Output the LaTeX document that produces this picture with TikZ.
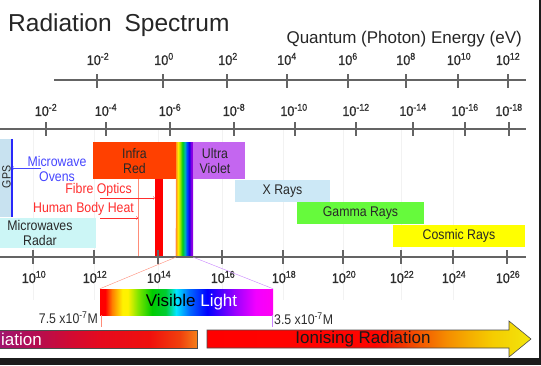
\documentclass[tikz,border=0pt]{standalone}
\usepackage{fontspec}
\setmainfont{Liberation Sans}
\newfontfamily\narrowsans[FakeStretch=0.88]{Liberation Sans}
\newfontfamily\ticksans[FakeStretch=0.9,FakeBold=0.6]{Liberation Sans}
\usetikzlibrary{positioning}

\definecolor{axisgray}{RGB}{100,100,100}
\definecolor{ticktext}{RGB}{45,45,45}
\definecolor{boxtext}{RGB}{40,40,40}
\definecolor{infrared}{RGB}{255,64,0}
\definecolor{uvviolet}{RGB}{196,102,240}
\definecolor{xraycol}{RGB}{204,232,246}
\definecolor{gammacol}{RGB}{102,250,60}
\definecolor{cosmiccol}{RGB}{255,255,0}
\definecolor{radarcol}{RGB}{204,246,246}
\definecolor{gpscol}{RGB}{200,226,240}
\definecolor{gpsblue}{RGB}{40,40,250}
\definecolor{ovenblue}{RGB}{70,70,255}
\definecolor{fibrered}{RGB}{255,45,45}
\definecolor{salmon}{RGB}{255,140,120}
\definecolor{vislilac}{RGB}{200,130,255}
\definecolor{gridfaint}{RGB}{242,242,242}
\definecolor{framedark}{RGB}{28,28,28}

% the colour bands
\pgfdeclarehorizontalshading{narrowrainbow}{100bp}{rgb(0bp)=(1,0.6,0.1); rgb(25bp)=(1,0.6,0.1);
  rgb(31bp)=(1,0.92,0); rgb(37bp)=(0.6,0.9,0); rgb(44bp)=(0,0.8,0.1); rgb(51bp)=(0,0.7,0.7);
  rgb(57bp)=(0,0.3,1); rgb(64bp)=(0.1,0,0.9); rgb(70bp)=(0.55,0,0.9); rgb(75bp)=(0.55,0,0.9);
  rgb(100bp)=(0.55,0,0.9)}
\pgfdeclarehorizontalshading{visspectrum}{100bp}{rgb(0bp)=(1,0,0); rgb(25bp)=(1,0,0);
  rgb(26.5bp)=(1,0,0); rgb(28.5bp)=(1,0.5,0); rgb(31.5bp)=(1,0.95,0); rgb(33bp)=(1,0.95,0);
  rgb(36bp)=(0.5,0.9,0); rgb(40bp)=(0,0.8,0); rgb(44bp)=(0,0.8,0.2); rgb(47bp)=(0,0.9,1);
  rgb(51bp)=(0,0.4,1); rgb(56bp)=(0,0,1); rgb(60bp)=(0.3,0,1); rgb(64bp)=(0.6,0,1);
  rgb(70bp)=(0.95,0,1); rgb(75bp)=(1,0,0.95); rgb(100bp)=(1,0,0.95)}
\pgfdeclarehorizontalshading{nonionshade}{100bp}{rgb(0bp)=(0.63,0.08,0.43); rgb(25.5bp)=(0.63,0.08,0.43);
  rgb(35.6bp)=(0.72,0.05,0.3); rgb(43bp)=(0.82,0.04,0.2); rgb(50.6bp)=(0.9,0.04,0.12);
  rgb(63bp)=(0.94,0.06,0.05); rgb(70.7bp)=(0.94,0.25,0.05); rgb(75bp)=(0.96,0.5,0.1);
  rgb(100bp)=(0.96,0.5,0.1)}
\pgfdeclarehorizontalshading{ionshade}{100bp}{rgb(0bp)=(1,0,0); rgb(25bp)=(1,0,0);
  rgb(51bp)=(1,0.02,0); rgb(55bp)=(0.95,0.2,0); rgb(62bp)=(0.96,0.55,0); rgb(66bp)=(0.96,0.7,0);
  rgb(69bp)=(0.96,0.8,0); rgb(75bp)=(0.95,0.9,0.05); rgb(100bp)=(0.95,0.9,0.05)}

\begin{document}
\begin{tikzpicture}
[x=1pt,y=-1pt,>=to,
 axis/.style={draw=axisgray,line width=1.2pt},
 ticklabel/.style={font=\ticksans\fontsize{14}{16}\selectfont,text=ticktext,inner sep=1pt},
 band/.style={inner sep=0pt,align=center,font=\narrowsans\fontsize{14}{15}\selectfont,text=boxtext},
 note/.style={inner sep=1pt,align=center,font=\narrowsans\fontsize{14}{15}\selectfont}]

\fill[white] (0,0) rectangle (541,365);
\useasboundingbox (0,0) rectangle (541,365);

% the titles
\node[anchor=base west,inner sep=0pt,font=\fontsize{24.5}{28}\selectfont,text=black!85] (title) at (8,31.7) {Radiation\hspace{0.25em} Spectrum};
\node[anchor=base east,inner sep=0pt,font=\fontsize{17}{20}\selectfont,text=black!85] (energytitle) at (522,43.3) {Quantum (Photon) Energy (eV)};

% faint grid
\draw[gridfaint] (33,129) -- (33,300) (94,129) -- (94,300) (158,129) -- (158,300) (222,129) -- (222,300)
  (283,129) -- (283,300) (343,129) -- (343,300) (401,129) -- (401,300) (453,129) -- (453,300);

% the energy axis
\draw[axis] (54,80) -- (526,80);
\draw[axis] (97,74) -- (97,88) (163,74) -- (163,88) (227,74) -- (227,88) (287,74) -- (287,88)
  (348,74) -- (348,88) (406,74) -- (406,88) (458,74) -- (458,88) (508,74) -- (508,88);
\node[ticklabel] (ev1) at (98,59) {10\textsuperscript{-2}};
\node[ticklabel] (ev2) at (164,59) {10\textsuperscript{0}};
\node[ticklabel] (ev3) at (228,59) {10\textsuperscript{2}};
\node[ticklabel] (ev4) at (287,59) {10\textsuperscript{4}};
\node[ticklabel] (ev5) at (348,59) {10\textsuperscript{6}};
\node[ticklabel] (ev6) at (406,59) {10\textsuperscript{8}};
\node[ticklabel] (ev7) at (459,59) {10\textsuperscript{10}};
\node[ticklabel] (ev8) at (508,59) {10\textsuperscript{12}};

% the wavelength axis
\draw[axis] (0,129) -- (526,129);
\draw[axis] (46,122) -- (46,136) (106,122) -- (106,136) (170,122) -- (170,136) (234,122) -- (234,136)
  (295,122) -- (295,136) (356,122) -- (356,136) (413,122) -- (413,136) (465,122) -- (465,136) (509,122) -- (509,136);
\node[ticklabel] (wl1) at (46,110) {10\textsuperscript{-2}};
\node[ticklabel] (wl2) at (106,110) {10\textsuperscript{-4}};
\node[ticklabel] (wl3) at (170,110) {10\textsuperscript{-6}};
\node[ticklabel] (wl4) at (234,110) {10\textsuperscript{-8}};
\node[ticklabel] (wl5) at (294,110) {10\textsuperscript{-10}};
\node[ticklabel] (wl6) at (356,110) {10\textsuperscript{-12}};
\node[ticklabel] (wl7) at (413,110) {10\textsuperscript{-14}};
\node[ticklabel] (wl8) at (465,110) {10\textsuperscript{-16}};
\node[ticklabel] (wl9) at (509,110) {10\textsuperscript{-18}};

% the bands
\node[band,fill=gpscol,minimum width=14pt,minimum height=78pt] (gps) at (5,178) {};
\draw[gpsblue,line width=1.5pt] (gps.north east) -- (gps.south east);
\node[band,rotate=90,font=\narrowsans\fontsize{12}{14}\selectfont] (gpslabel) at (6.5,177) {GPS};
\node[band,fill=radarcol,minimum width=112pt,minimum height=30pt] (radar) at (40,233) {Microwaves\\Radar};
\node[band,fill=infrared,minimum width=83pt,minimum height=37pt] (infrared) at (134.5,160.5) {Infra\\Red};
\node[band,fill=red,minimum width=8pt,minimum height=78pt] (irbar) at (159,218) {};
\node[band,shading=narrowrainbow,minimum width=17pt,minimum height=115pt] (visbar) at (184.5,199.5) {};
\node[band,fill=uvviolet,minimum width=52pt,minimum height=37pt] (uv) at (219,160.5) {};
\node[band] (uvlabel) at ([xshift=-4pt]uv.center) {Ultra\\Violet};
\node[band,fill=xraycol,minimum width=95pt,minimum height=22pt] (xray) at (282.5,191) {X Rays};
\node[band,fill=gammacol,minimum width=127pt,minimum height=22pt] (gamma) at (360.5,213) {Gamma Rays};
\node[band,fill=cosmiccol,minimum width=132pt,minimum height=22pt] (cosmic) at (459,236) {Cosmic Rays};

% the uses
\coordinate (heattop) at (138,179);
\coordinate (heatbot) at (138,257);
\draw[salmon] (heattop) -- (heatbot);
\draw[salmon] (infrared.south east) -- (visbar.south west);
\node[note,text=ovenblue] (ovens) at (57,169) {Microwave\\Ovens};
\node[note,text=fibrered,anchor=east] (fibre) at (133,190) {Fibre Optics};
\node[note,text=fibrered,anchor=east] (bodyheat) at (135,209) {Human Body Heat};
\coordinate (ovenstart) at (41,168);
\coordinate (fibrestart) at (100,198);
\coordinate (heatstart) at (100,218);
\draw[->,ovenblue] (ovenstart) -- (gps.east |- ovenstart);
\draw[->,fibrered] (fibrestart) -- (irbar.west |- fibrestart);
\draw[->,fibrered] (heatstart) -- (heattop |- heatstart);

% the frequency axis
\draw[axis] (0,257) -- (526,257);
\draw[axis] (33,250) -- (33,264) (94,250) -- (94,264) (158,250) -- (158,264) (222,250) -- (222,264)
  (283,250) -- (283,264) (343,250) -- (343,264) (401,250) -- (401,264) (453,250) -- (453,264) (507,250) -- (507,264);
\node[ticklabel] (hz1) at (34,277) {10\textsuperscript{10}};
\node[ticklabel] (hz2) at (95,277) {10\textsuperscript{12}};
\node[ticklabel] (hz3) at (159,277) {10\textsuperscript{14}};
\node[ticklabel] (hz4) at (223,277) {10\textsuperscript{16}};
\node[ticklabel] (hz5) at (284,277) {10\textsuperscript{18}};
\node[ticklabel] (hz6) at (344,277) {10\textsuperscript{20}};
\node[ticklabel] (hz7) at (402,277) {10\textsuperscript{22}};
\node[ticklabel] (hz8) at (454,277) {10\textsuperscript{24}};
\node[ticklabel] (hz9) at (508,277) {10\textsuperscript{26}};

% visible light
\node[band,shading=visspectrum,minimum width=173pt,minimum height=26pt] (visible) at (186.5,302) {};
\node[band,font=\fontsize{17}{20}\selectfont,text=black] (vislabel) at ([xshift=5pt]visible.center) {Visible {\color{white}Light}};
\draw[salmon] (visbar.south west) -- (visible.north west);
\draw[vislilac] (visbar.south east) -- (visible.north east);
\coordinate (redmark) at (101,327);
\coordinate (violetmark) at (272,327);
\draw[salmon] (visible.south west -| redmark) -- (redmark);
\draw[vislilac] (visible.south east -| violetmark) -- (violetmark);
\node[note,text=ticktext,anchor=east] (longlimit) at (99,318) {7.5 x10\textsuperscript{-7}M};
\node[note,text=ticktext,anchor=west] (shortlimit) at (273,319) {3.5 x10\textsuperscript{-7}M};

% the radiation arrows
\shade[shading=nonionshade,draw=black!70,line width=0.6pt] (-2,330) rectangle (197,348);
\node[anchor=west,inner sep=0pt,font=\fontsize{17}{20}\selectfont,text=white] (nonion) at (1,339) {iation};
\shade[shading=ionshade,draw=black!70,line width=0.6pt] (207,330) -- (509,330) -- (509,321) -- (531,339)
  -- (509,357) -- (509,348) -- (207,348) -- cycle;
\node[inner sep=0pt,font=\fontsize{17}{20}\selectfont,text=black!90] (ion) at (363,339.5) {Ionising Radiation};

% the frame
\fill[framedark] (539,0) rectangle (541,365);
\fill[framedark] (0,358) rectangle (541,365);
\end{tikzpicture}
\end{document}
